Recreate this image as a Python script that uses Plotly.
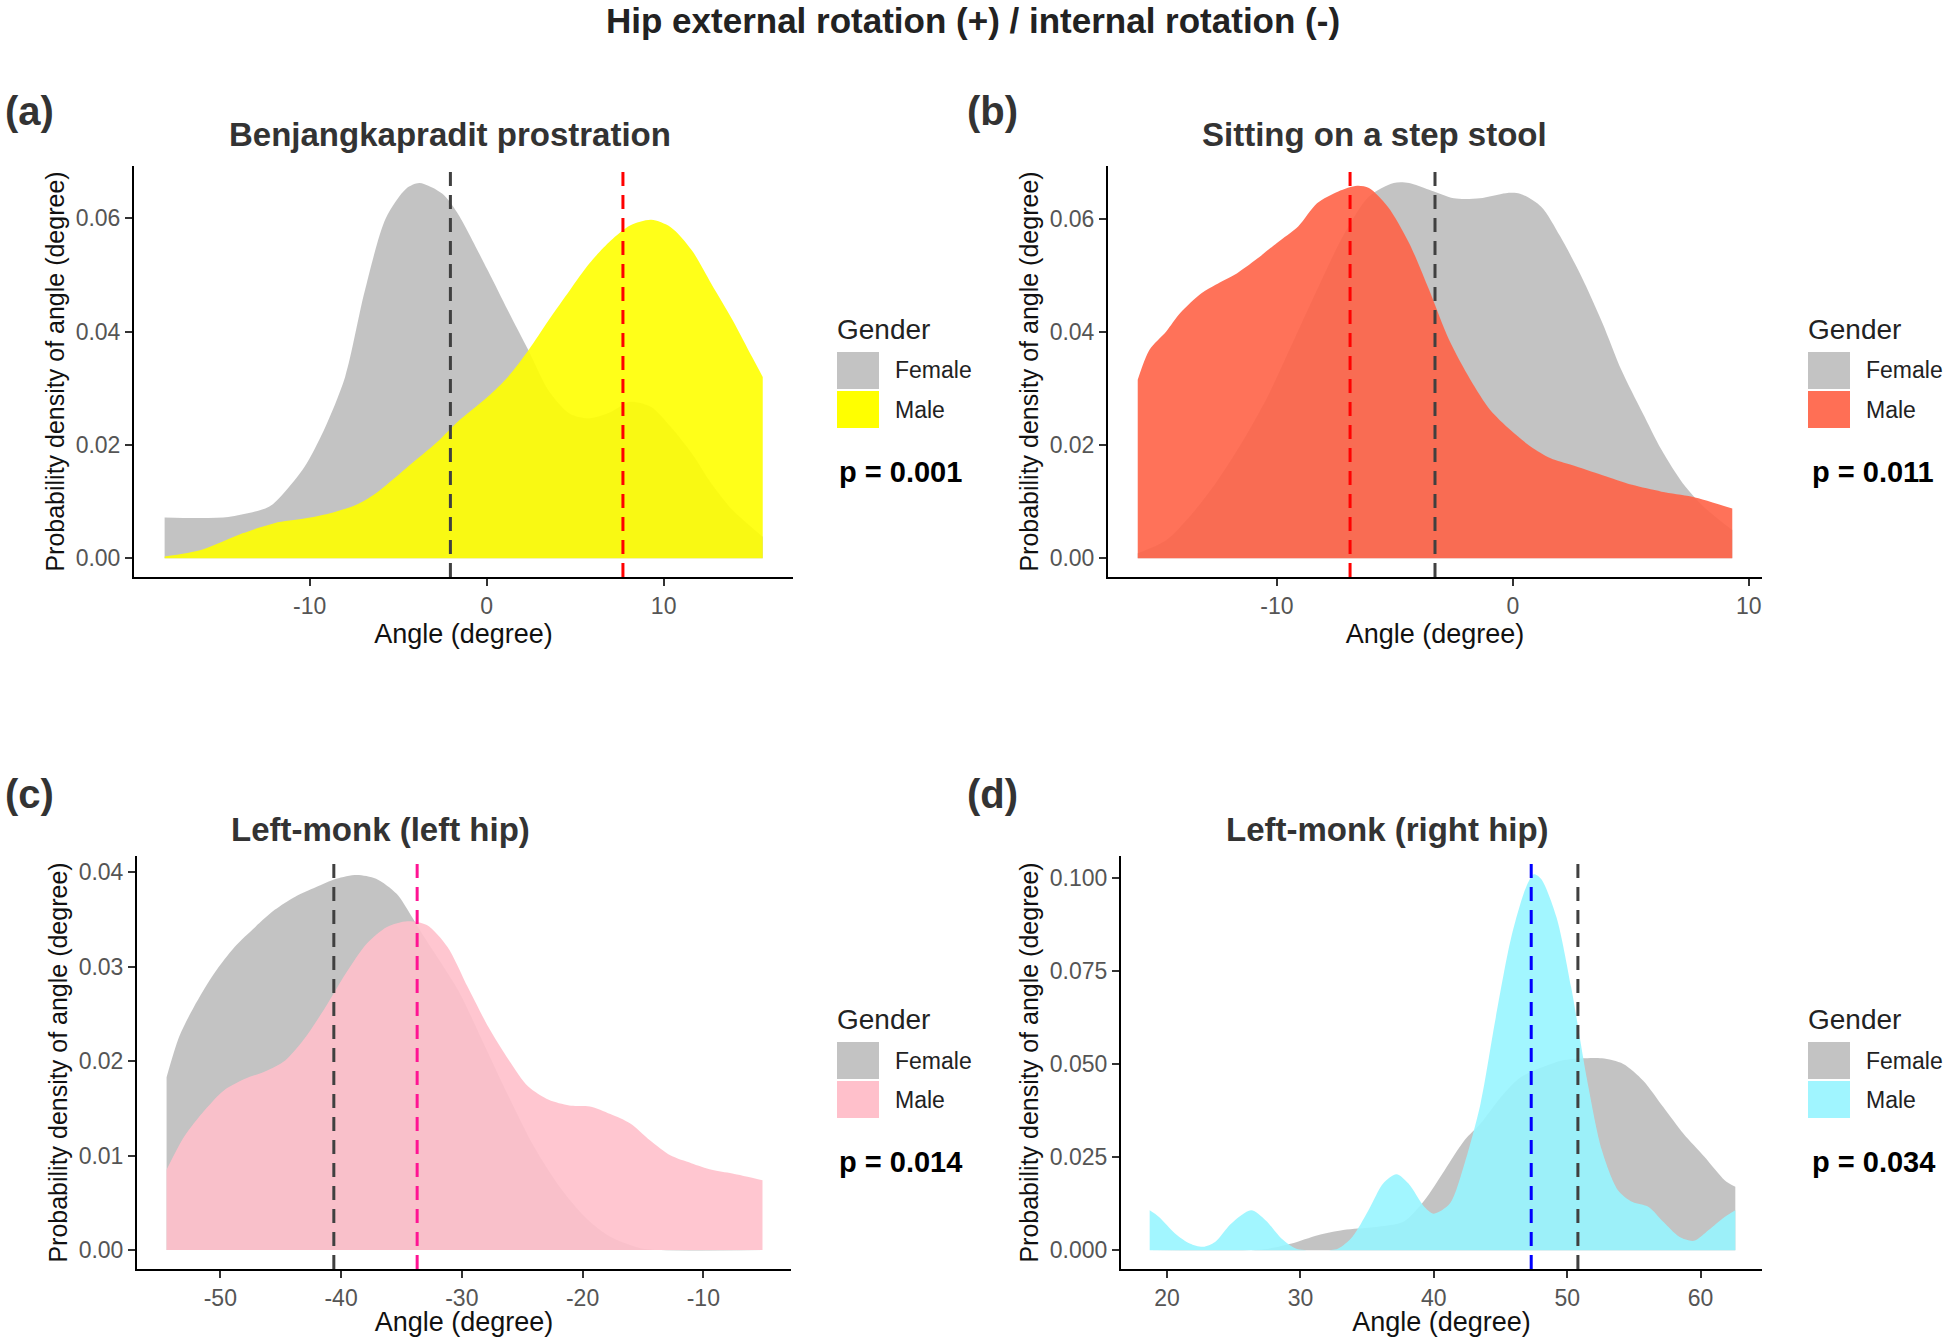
import plotly.graph_objects as go
from plotly.subplots import make_subplots

W, H = 1946, 1337

# ---------------- data ----------------
# (a) Benjangkapradit prostration
a_female_x = [-18.2, -14.6, -12.3, -11.5, -10.3, -9.2, -8.0, -6.9, -5.7, -4.55, -3.8, -2.5, -1.67, 0.06,
              1.2, 2.36, 3.5, 4.7, 5.8, 7.0, 8.1, 9.3, 10.4, 11.6, 12.7, 13.9, 15.6]
a_female_y = [0.0072, 0.0073, 0.0091, 0.0114, 0.0161, 0.0226, 0.032, 0.047, 0.060, 0.0652, 0.0662, 0.0643,
              0.061, 0.0508, 0.0437, 0.0367, 0.0296, 0.0255, 0.0247, 0.0258, 0.0276, 0.0267, 0.0232, 0.0185,
              0.0132, 0.0085, 0.0038]
a_male_x = [-18.2, -16.1, -13.8, -12.0, -10.3, -8.9, -7.4, -6.3, -4.55, -2.8, -1.67, 0.06, 1.2, 2.36, 3.5,
            4.7, 5.8, 7.0, 8.1, 9.3, 10.4, 11.6, 12.7, 13.9, 15.0, 15.6]
a_male_y = [0.0003, 0.0015, 0.0044, 0.0062, 0.007, 0.0079, 0.0094, 0.0114, 0.0159, 0.0205, 0.024, 0.0285,
            0.032, 0.0367, 0.042, 0.0473, 0.052, 0.056, 0.0587, 0.0597, 0.0584, 0.0543, 0.0484, 0.042,
            0.0355, 0.032]
a_means = [-2.05, 7.7]  # female, male

# (b) Sitting on a step stool
b_female_x = [-15.9, -14.7, -13.7, -12.6, -11.5, -10.4, -9.35, -8.3, -7.2, -6.1, -5.05, -4.4, -3.55, -2.5,
              -1.4, -0.3, 0.3, 1.2, 2.0, 2.9, 3.8, 4.6, 5.5, 6.3, 7.2, 8.1, 9.3]
b_female_y = [0.0009, 0.0032, 0.0074, 0.0133, 0.0204, 0.0286, 0.038, 0.0475, 0.057, 0.064, 0.0664, 0.0664,
              0.0652, 0.0637, 0.0637, 0.0646, 0.0645, 0.0622, 0.057, 0.0499, 0.0416, 0.0333, 0.0257, 0.0192,
              0.0133, 0.0091, 0.005]
b_male_x = [-15.9, -15.4, -14.7, -14.1, -13.2, -12.6, -11.7, -10.9, -10.0, -9.1, -8.3, -7.4, -6.6, -6.1,
            -5.3, -4.4, -3.55, -2.7, -1.8, -0.97, -0.1, 0.75, 1.6, 2.5, 3.8, 5.05, 6.3, 7.6, 9.3]
b_male_y = [0.0316, 0.0369, 0.0401, 0.0434, 0.0469, 0.0484, 0.0504, 0.0528, 0.0558, 0.0587, 0.0628, 0.0649,
            0.0659, 0.0655, 0.0622, 0.0558, 0.0475, 0.0386, 0.0316, 0.0263, 0.0227, 0.0198, 0.0177, 0.0165,
            0.0147, 0.013, 0.0118, 0.0109, 0.0088]
b_means = [-3.3, -6.9]

# (c) Left-monk (left hip)
c_female_x = [-54.45, -53.4, -52.2, -50.5, -48.8, -47.1, -45.5, -43.8, -42.1, -40.4, -38.7, -37.1, -35.4,
              -34.1, -33.3, -30.3, -28.2, -26.1, -24.0, -21.9, -19.8, -17.7, -15.2, -13.5, -5.1]
c_female_y = [0.0183, 0.0226, 0.0257, 0.0293, 0.0321, 0.0342, 0.036, 0.0374, 0.0384, 0.0393, 0.0397, 0.0393,
              0.0377, 0.0352, 0.0335, 0.0275, 0.0219, 0.0162, 0.0109, 0.0067, 0.0035, 0.0014, 0.0002, 0.0, 0.0]
c_male_x = [-54.45, -53.0, -51.3, -49.7, -48.0, -46.3, -44.6, -42.9, -41.3, -39.6, -37.9, -36.2, -34.5,
            -32.9, -31.2, -29.5, -27.8, -26.1, -24.5, -22.8, -21.1, -19.4, -17.7, -16.05, -14.4, -12.7,
            -11.0, -9.3, -7.6, -5.1]
c_male_y = [0.0085, 0.012, 0.0148, 0.0169, 0.0181, 0.0189, 0.0201, 0.0226, 0.0257, 0.0293, 0.0324, 0.0342,
            0.0348, 0.0344, 0.0321, 0.0278, 0.0236, 0.0201, 0.0173, 0.0159, 0.0153, 0.0152, 0.0144, 0.0134,
            0.0116, 0.01, 0.0092, 0.0085, 0.0081, 0.0074]
c_means = [-40.6, -33.7]

# (d) Left-monk (right hip)
d_female_x = [18.7, 26.3, 27.4, 29.35, 31.3, 33.2, 34.3, 35.8, 37.7, 39.3, 40.8, 42.3, 43.5, 45.0, 46.5,
              48.05, 49.6, 51.1, 52.6, 54.2, 55.7, 57.2, 58.7, 60.3, 61.8, 62.6]
d_female_y = [0.0, 0.0, 0.0003, 0.0018, 0.004, 0.0054, 0.0058, 0.0063, 0.0076, 0.0134, 0.0214, 0.0295,
              0.034, 0.041, 0.0464, 0.049, 0.0509, 0.0515, 0.0515, 0.05, 0.0455, 0.0384, 0.0313, 0.025,
              0.0188, 0.017]
d_male_x = [18.7, 19.4, 20.6, 21.7, 22.7, 23.6, 24.8, 26.3, 27.4, 28.6, 29.7, 31.3, 32.8, 33.9, 35.1, 36.2,
            37.2, 38.1, 39.3, 40.0, 41.2, 42.3, 43.5, 44.6, 45.8, 46.9, 47.5, 48.05, 49.2, 50.3, 51.5,
            52.6, 53.8, 54.9, 56.1, 57.2, 58.4, 59.5, 60.6, 61.8, 62.6]
d_male_y = [0.0107, 0.0089, 0.0045, 0.0018, 0.0009, 0.0022, 0.0071, 0.0107, 0.008, 0.0031, 0.0004, 0.0,
            0.0004, 0.0036, 0.0107, 0.0179, 0.0204, 0.0179, 0.0116, 0.0098, 0.0125, 0.0232, 0.0393, 0.0616,
            0.0839, 0.0973, 0.1009, 0.0996, 0.0893, 0.0705, 0.0455, 0.0268, 0.0161, 0.0129, 0.0116, 0.0076,
            0.0036, 0.0025, 0.0054, 0.0089, 0.0107]
d_means = [50.8, 47.3]

panel_letters = ["(a)", "(b)", "(c)", "(d)"]
panel_titles = ["Benjangkapradit prostration", "Sitting on a step stool",
                "Left-monk (left hip)", "Left-monk (right hip)"]
p_values = ["p = 0.001", "p = 0.011", "p = 0.014", "p = 0.034"]
genders = ["Female", "Male"]
main_title = "Hip external rotation (+) / internal rotation (-)"
x_title = "Angle (degree)"
y_title = "Probability density of angle (degree)"

x_ticks = [[-10, 0, 10], [-10, 0, 10], [-50, -40, -30, -20, -10], [20, 30, 40, 50, 60]]
x_ticklabels = [["-10", "0", "10"], ["-10", "0", "10"], ["-50", "-40", "-30", "-20", "-10"],
                ["20", "30", "40", "50", "60"]]
y_ticks = [[0, 0.02, 0.04, 0.06], [0, 0.02, 0.04, 0.06], [0, 0.01, 0.02, 0.03, 0.04],
           [0, 0.025, 0.05, 0.075, 0.1]]
y_ticklabels = [["0.00", "0.02", "0.04", "0.06"], ["0.00", "0.02", "0.04", "0.06"],
                ["0.00", "0.01", "0.02", "0.03", "0.04"], ["0.000", "0.025", "0.050", "0.075", "0.100"]]

# ---------------- styling ----------------
female_fill = "rgba(190,190,190,0.92)"
male_fills = ["rgba(255,255,0,0.9)", "rgba(255,99,71,0.9)", "rgba(255,192,203,0.9)", "rgba(152,245,255,0.9)"]
male_keys = ["#FFFF00", "#FF6F55", "#FFC0CB", "#A0F5FF"]
male_lines = ["#FF0000", "#FF0000", "#FF1493", "#0000FF"]
female_line = "#404040"

FONT = "Arial, Liberation Sans, sans-serif"


def px(x):
    return x / W


def py(y):
    return 1 - y / H


# plot-area pixel boxes (left, right, top, bottom)
boxes = [(134, 793, 166, 577), (1108, 1762, 166, 577), (137, 791, 856, 1269), (1121, 1762, 856, 1269)]
x_ranges = [[-19.93, 17.31], [-17.16, 10.56], [-56.9, -2.74], [16.55, 64.6]]
y_ranges = [[-0.0033, 0.0692], [-0.0033, 0.0694], [-0.002, 0.0417], [-0.00505, 0.1058]]

fig = make_subplots(rows=2, cols=2)

series = [
    (a_female_x, a_female_y, a_male_x, a_male_y, a_means),
    (b_female_x, b_female_y, b_male_x, b_male_y, b_means),
    (c_female_x, c_female_y, c_male_x, c_male_y, c_means),
    (d_female_x, d_female_y, d_male_x, d_male_y, d_means),
]

shapes = []
annotations = []
for i, (fx, fy, mx, my, means) in enumerate(series):
    r, c = i // 2 + 1, i % 2 + 1
    fig.add_trace(go.Scatter(x=fx, y=fy, mode="lines", fill="tozeroy", fillcolor=female_fill,
                             line=dict(width=0, shape="spline", smoothing=0.8), name=genders[0],
                             showlegend=False, hoverinfo="x+y"), row=r, col=c)
    fig.add_trace(go.Scatter(x=mx, y=my, mode="lines", fill="tozeroy", fillcolor=male_fills[i],
                             line=dict(width=0, shape="spline", smoothing=0.8), name=genders[1],
                             showlegend=False, hoverinfo="x+y"), row=r, col=c)
    xa = "x" if i == 0 else f"x{i+1}"
    ya = "y" if i == 0 else f"y{i+1}"
    for m, col in zip(means, [female_line, male_lines[i]]):
        shapes.append(dict(type="line", xref=xa, yref=f"{ya} domain", x0=m, x1=m, y0=0, y1=1,
                           line=dict(color=col, width=3, dash="14px,9px"), layer="above"))

    L, R, T, B = boxes[i]
    fig.update_xaxes(domain=[px(L), px(R)], range=x_ranges[i], tickvals=x_ticks[i], ticktext=x_ticklabels[i],
                     title=dict(text=x_title, font=dict(size=27, color="#111", family=FONT), standoff=6),
                     row=r, col=c)
    fig.update_yaxes(domain=[py(B), py(T)], range=y_ranges[i], tickvals=y_ticks[i], ticktext=y_ticklabels[i],
                     title=dict(text=y_title, font=dict(size=25, color="#111", family=FONT), standoff=4),
                     row=r, col=c)

    # panel letter and panel title
    top_off = 0 if i < 2 else 683
    lx = 3 if c == 1 else 965
    annotations.append(dict(text=f"<b>{panel_letters[i]}</b>", x=px(lx), y=py(111 + top_off),
                            xref="paper", yref="paper", xanchor="left", yanchor="middle", showarrow=False,
                            font=dict(size=40, color="#333", family=FONT)))
    tcx = [450, 1374, 380, 1387][i]
    tcy = [134, 134, 829, 829][i]
    annotations.append(dict(text=f"<b>{panel_titles[i]}</b>", x=px(tcx), y=py(tcy),
                            xref="paper", yref="paper", xanchor="center", yanchor="middle",
                            showarrow=False, font=dict(size=33, color="#333", family=FONT)))

    # legend (drawn manually, ggplot style)
    gx = 835 if c == 1 else 1806
    gy = 329 if r == 1 else 1019
    annotations.append(dict(text="Gender", x=px(gx), y=py(gy), xref="paper", yref="paper",
                            xanchor="left", yanchor="middle", showarrow=False,
                            font=dict(size=28, color="#222", family=FONT)))
    kx0 = gx + 2
    kx1 = kx0 + 42
    for k, (fc, lab) in enumerate(zip([female_fill, male_keys[i]], genders)):
        ky0 = gy + 23 + k * 39
        ky1 = ky0 + 37
        shapes.append(dict(type="rect", xref="paper", yref="paper", x0=px(kx0), x1=px(kx1),
                           y0=py(ky1), y1=py(ky0), fillcolor=fc, line=dict(width=0), layer="above"))
        annotations.append(dict(text=lab, x=px(kx1 + 14), y=py((ky0 + ky1) / 2), xref="paper", yref="paper",
                                xanchor="left", yanchor="middle", showarrow=False,
                                font=dict(size=23, color="#222", family=FONT)))
    annotations.append(dict(text=f"<b>{p_values[i]}</b>", x=px(gx + 2 if c == 1 else gx + 4),
                            y=py(gy + 143), xref="paper", yref="paper", xanchor="left", yanchor="middle",
                            showarrow=False, font=dict(size=29, color="#000", family=FONT)))

annotations.append(dict(text=f"<b>{main_title}</b>", x=px(973), y=py(21), xref="paper", yref="paper",
                        xanchor="center", yanchor="middle", showarrow=False,
                        font=dict(size=35, color="#222", family=FONT)))

fig.update_xaxes(showline=True, linecolor="black", linewidth=2, ticks="outside", ticklen=7, tickwidth=1.5,
                 tickcolor="#333", showgrid=False, zeroline=False,
                 tickfont=dict(size=23, color="#555", family=FONT))
fig.update_yaxes(showline=True, linecolor="black", linewidth=2, ticks="outside", ticklen=7, tickwidth=1.5,
                 tickcolor="#333", showgrid=False, zeroline=False,
                 tickfont=dict(size=23, color="#555", family=FONT))

fig.update_layout(width=W, height=H, margin=dict(l=0, r=0, t=0, b=0), plot_bgcolor="white",
                  paper_bgcolor="white", showlegend=False, shapes=shapes, annotations=annotations,
                  font=dict(family=FONT))

fig.write_html("out.html", config={"displayModeBar": False},
               post_script="document.body.style.margin='0px';document.body.style.overflow='hidden';")
